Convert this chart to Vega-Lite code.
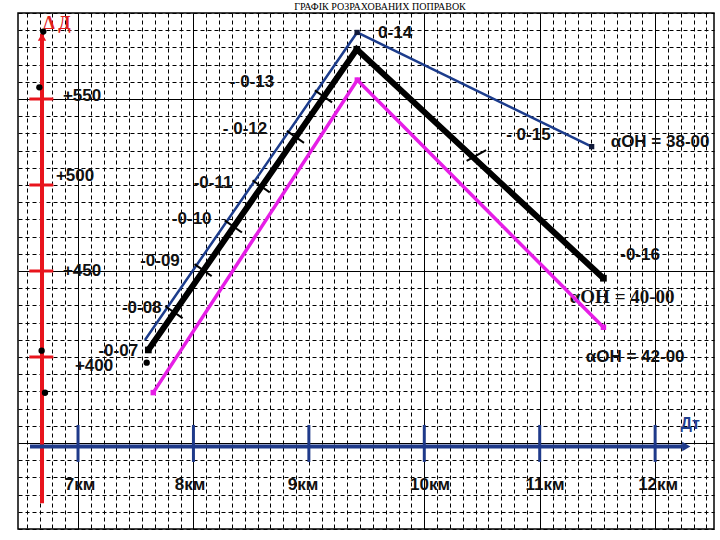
{
  "$schema": "https://vega.github.io/schema/vega-lite/v6.json",
  "width": 696,
  "height": 516,
  "autosize": {"type": "none"},
  "padding": {"left": 18, "top": 13, "right": 6, "bottom": 11},
  "background": "white",
  "config": {"view": {"stroke": "#000", "strokeWidth": 1.5}},
  "title": {"text": "ГРАФІК РОЗРАХОВАНИХ ПОПРАВОК", "font": "Liberation Serif", "fontSize": 10, "fontWeight": "normal", "color": "#000", "anchor": "middle", "dx": 14, "offset": 1},
  "datasets": {
    "lines": [
      {"s": "blue", "o": 1, "x": 7.58, "y": 409.9},
      {"s": "blue", "o": 2, "x": 9.418, "y": 588.7},
      {"s": "blue", "o": 3, "x": 11.45, "y": 522.3},
      {"s": "black", "o": 1, "x": 7.609, "y": 404.1},
      {"s": "black", "o": 2, "x": 9.415, "y": 578.9},
      {"s": "black", "o": 3, "x": 11.552, "y": 445.8},
      {"s": "magenta", "o": 1, "x": 7.652, "y": 379.3},
      {"s": "magenta", "o": 2, "x": 9.42, "y": 561.0},
      {"s": "magenta", "o": 3, "x": 11.552, "y": 417.3}
    ],
    "segs": [
      {"k": "redaxis", "x": 6.688, "y": 315, "x2": 6.688, "y2": 588},
      {"k": "redtick", "x": 6.578, "y": 550, "x2": 6.786, "y2": 550},
      {"k": "redtick", "x": 6.578, "y": 500, "x2": 6.786, "y2": 500},
      {"k": "redtick", "x": 6.578, "y": 450, "x2": 6.786, "y2": 450},
      {"k": "redtick", "x": 6.578, "y": 400, "x2": 6.786, "y2": 400},
      {"k": "blueaxis", "x": 6.584, "y": 348, "x2": 12.24, "y2": 348},
      {"k": "bluetick", "x": 7, "y": 339, "x2": 7, "y2": 360.5},
      {"k": "bluetick", "x": 8, "y": 339, "x2": 8, "y2": 360.5},
      {"k": "bluetick", "x": 9, "y": 339, "x2": 9, "y2": 360.5},
      {"k": "bluetick", "x": 10, "y": 339, "x2": 10, "y2": 360.5},
      {"k": "bluetick", "x": 11, "y": 339, "x2": 11, "y2": 360.5},
      {"k": "bluetick", "x": 12, "y": 339, "x2": 12, "y2": 360.5},
      {"k": "tick", "x": 7.756, "y": 429.5, "x2": 7.906, "y2": 422.6},
      {"k": "tick", "x": 8.009, "y": 454.0, "x2": 8.158, "y2": 447.0},
      {"k": "tick", "x": 8.271, "y": 479.4, "x2": 8.420, "y2": 472.4},
      {"k": "tick", "x": 8.512, "y": 502.7, "x2": 8.661, "y2": 495.7},
      {"k": "tick", "x": 8.809, "y": 531.5, "x2": 8.958, "y2": 524.5},
      {"k": "tick", "x": 9.052, "y": 555.0, "x2": 9.201, "y2": 548.0},
      {"k": "tick", "x": 10.367, "y": 514.0, "x2": 10.536, "y2": 520.3}
    ],
    "pts": [
      {"k": "dot", "x": 6.699, "y": 589.2},
      {"k": "dot", "x": 6.665, "y": 556.8},
      {"k": "dot", "x": 6.685, "y": 403.7},
      {"k": "dot", "x": 6.714, "y": 379.2},
      {"k": "dot", "x": 7.595, "y": 396.7},
      {"k": "arrowR", "x": 12.27, "y": 348},
      {"k": "arrowU", "x": 6.688, "y": 586}
    ],
    "labels": [
      {"st": "sans", "t": "-0-07", "x": 7.349, "y": 403.7},
      {"st": "sans", "t": "-0-08", "x": 7.552, "y": 428.3},
      {"st": "sans", "t": "-0-09", "x": 7.71, "y": 455.8},
      {"st": "sans", "t": "-0-10", "x": 7.985, "y": 480.1},
      {"st": "sans", "t": "-0-11", "x": 8.17, "y": 501.2},
      {"st": "sans", "t": "- 0-12", "x": 8.447, "y": 532.4},
      {"st": "sans", "t": "- 0-13", "x": 8.508, "y": 560.1},
      {"st": "sans", "t": "0-14", "x": 9.747, "y": 588.2},
      {"st": "sans", "t": "- 0-15", "x": 10.902, "y": 529.1},
      {"st": "sans", "t": "-0-16", "x": 11.87, "y": 459.3},
      {"st": "sans", "t": "αОН = 38-00", "x": 12.043, "y": 525.0},
      {"st": "sans", "t": "αОН = 42-00", "x": 11.827, "y": 400.0},
      {"st": "sans", "t": "+550", "x": 7.035, "y": 551.7},
      {"st": "sans", "t": "+500", "x": 6.974, "y": 505.2},
      {"st": "sans", "t": "+450", "x": 7.035, "y": 450.0},
      {"st": "sans", "t": "+400", "x": 7.139, "y": 394.8},
      {"st": "sans", "t": "7км", "x": 7.017, "y": 325.6},
      {"st": "sans", "t": "8км", "x": 7.97, "y": 325.6},
      {"st": "sans", "t": "9км", "x": 8.95, "y": 325.6},
      {"st": "sans", "t": "10км", "x": 10.05, "y": 325.6},
      {"st": "sans", "t": "11км", "x": 11.047, "y": 325.6},
      {"st": "sans", "t": "12км", "x": 12.026, "y": 325.6},
      {"st": "serif", "t": "αОН = 40-00", "x": 11.714, "y": 434.9},
      {"st": "red", "t": "Δ Д", "x": 6.818, "y": 593.6},
      {"st": "blue", "t": "Дт", "x": 12.303, "y": 361.0}
    ]
  },
  "encoding": {
    "x": {
      "field": "x", "type": "quantitative",
      "scale": {"domain": [6.48, 12.51], "nice": false, "zero": false},
      "axis": {
        "values": [6.556, 6.667, 6.778, 6.889, 7, 7.111, 7.222, 7.333, 7.444, 7.556, 7.667, 7.778, 7.889, 8, 8.111, 8.222, 8.333, 8.444, 8.556, 8.667, 8.778, 8.889, 9, 9.111, 9.222, 9.333, 9.444, 9.556, 9.667, 9.778, 9.889, 10, 10.111, 10.222, 10.333, 10.444, 10.556, 10.667, 10.778, 10.889, 11, 11.111, 11.222, 11.333, 11.444, 11.556, 11.667, 11.778, 11.889, 12, 12.111, 12.222, 12.333, 12.444],
        "labels": false, "ticks": false, "domain": false, "title": null,
        "grid": true, "gridColor": "#000", "gridWidth": 1, "gridOpacity": 1,
        "gridDash": {"condition": {"test": "datum.value % 1 == 0 && datum.value != 9", "value": []}, "value": [4, 3]}
      }
    },
    "y": {
      "field": "y", "type": "quantitative",
      "scale": {"domain": [300, 600], "nice": false, "zero": false},
      "axis": {
        "values": [300, 310, 320, 330, 340, 350, 360, 370, 380, 390, 400, 410, 420, 430, 440, 450, 460, 470, 480, 490, 500, 510, 520, 530, 540, 550, 560, 570, 580, 590, 600],
        "labels": false, "ticks": false, "domain": false, "title": null,
        "grid": true, "gridColor": "#000", "gridWidth": 1, "gridOpacity": 1,
        "gridDash": {"condition": {"test": "datum.value % 100 == 50", "value": []}, "value": [4, 3]}
      }
    }
  },
  "layer": [
    {
      "data": {"name": "labels"},
      "transform": [{"filter": "datum.st == 'sans'"}],
      "mark": {"type": "text", "font": "Liberation Sans", "fontWeight": "bold", "fontSize": 17, "color": "#111", "align": "center", "baseline": "middle"},
      "encoding": {"text": {"field": "t"}}
    },
    {
      "data": {"name": "labels"},
      "transform": [{"filter": "datum.st == 'serif'"}],
      "mark": {"type": "text", "font": "Liberation Serif", "fontWeight": "bold", "fontSize": 19, "color": "#111", "align": "center", "baseline": "middle"},
      "encoding": {"text": {"field": "t"}}
    },
    {
      "data": {"name": "labels"},
      "transform": [{"filter": "datum.st == 'red'"}],
      "mark": {"type": "text", "font": "Liberation Serif", "fontWeight": "bold", "fontSize": 18, "color": "#e0201c", "align": "center", "baseline": "middle"},
      "encoding": {"text": {"field": "t"}}
    },
    {
      "data": {"name": "labels"},
      "transform": [{"filter": "datum.st == 'blue'"}],
      "mark": {"type": "text", "font": "Liberation Sans", "fontWeight": "bold", "fontSize": 16, "color": "#1f3f8f", "align": "center", "baseline": "middle"},
      "encoding": {"text": {"field": "t"}}
    },
    {
      "data": {"name": "segs"},
      "transform": [{"filter": "datum.k == 'redaxis'"}],
      "mark": {"type": "rule", "color": "#e8141c", "strokeWidth": 4},
      "encoding": {"x2": {"field": "x2"}, "y2": {"field": "y2"}}
    },
    {
      "data": {"name": "segs"},
      "transform": [{"filter": "datum.k == 'redtick'"}],
      "mark": {"type": "rule", "color": "#e8141c", "strokeWidth": 3},
      "encoding": {"x2": {"field": "x2"}, "y2": {"field": "y2"}}
    },
    {
      "data": {"name": "segs"},
      "transform": [{"filter": "datum.k == 'blueaxis'"}],
      "mark": {"type": "rule", "color": "#1f3a8a", "strokeWidth": 4},
      "encoding": {"x2": {"field": "x2"}, "y2": {"field": "y2"}}
    },
    {
      "data": {"name": "segs"},
      "transform": [{"filter": "datum.k == 'bluetick'"}],
      "mark": {"type": "rule", "color": "#1f3a8a", "strokeWidth": 3},
      "encoding": {"x2": {"field": "x2"}, "y2": {"field": "y2"}}
    },
    {
      "data": {"name": "pts"},
      "transform": [{"filter": "datum.k == 'arrowR'"}],
      "mark": {"type": "point", "shape": "triangle-right", "filled": true, "size": 90, "color": "#1f3a8a", "opacity": 1}
    },
    {
      "data": {"name": "pts"},
      "transform": [{"filter": "datum.k == 'arrowU'"}],
      "mark": {"type": "point", "shape": "triangle-up", "filled": true, "size": 70, "color": "#e8141c", "opacity": 1}
    },
    {
      "data": {"name": "lines"},
      "transform": [{"filter": "datum.s == 'magenta'"}],
      "mark": {"type": "line", "color": "#e61ee6", "strokeWidth": 3.5},
      "encoding": {"order": {"field": "o"}}
    },
    {
      "data": {"name": "lines"},
      "transform": [{"filter": "datum.s == 'black'"}],
      "mark": {"type": "line", "color": "#000", "strokeWidth": 6},
      "encoding": {"order": {"field": "o"}}
    },
    {
      "data": {"name": "lines"},
      "transform": [{"filter": "datum.s == 'blue'"}],
      "mark": {"type": "line", "color": "#1c3c8c", "strokeWidth": 2.5},
      "encoding": {"order": {"field": "o"}}
    },
    {
      "data": {"name": "segs"},
      "transform": [{"filter": "datum.k == 'tick'"}],
      "mark": {"type": "rule", "color": "#000", "strokeWidth": 2},
      "encoding": {"x2": {"field": "x2"}, "y2": {"field": "y2"}}
    },
    {
      "data": {"name": "lines"},
      "transform": [{"filter": "datum.s == 'magenta'"}],
      "mark": {"type": "point", "shape": "square", "filled": true, "size": 30, "color": "#e61ee6", "opacity": 1}
    },
    {
      "data": {"name": "lines"},
      "transform": [{"filter": "datum.s == 'black'"}],
      "mark": {"type": "point", "shape": "square", "filled": true, "size": 45, "color": "#000", "opacity": 1}
    },
    {
      "data": {"name": "lines"},
      "transform": [{"filter": "datum.s == 'blue' && datum.o > 1"}],
      "mark": {"type": "point", "shape": "square", "filled": true, "size": 28, "color": "#111a3a", "opacity": 1}
    },
    {
      "data": {"name": "pts"},
      "transform": [{"filter": "datum.k == 'dot'"}],
      "mark": {"type": "point", "shape": "circle", "filled": true, "size": 40, "color": "#000", "opacity": 1}
    }
  ]
}
